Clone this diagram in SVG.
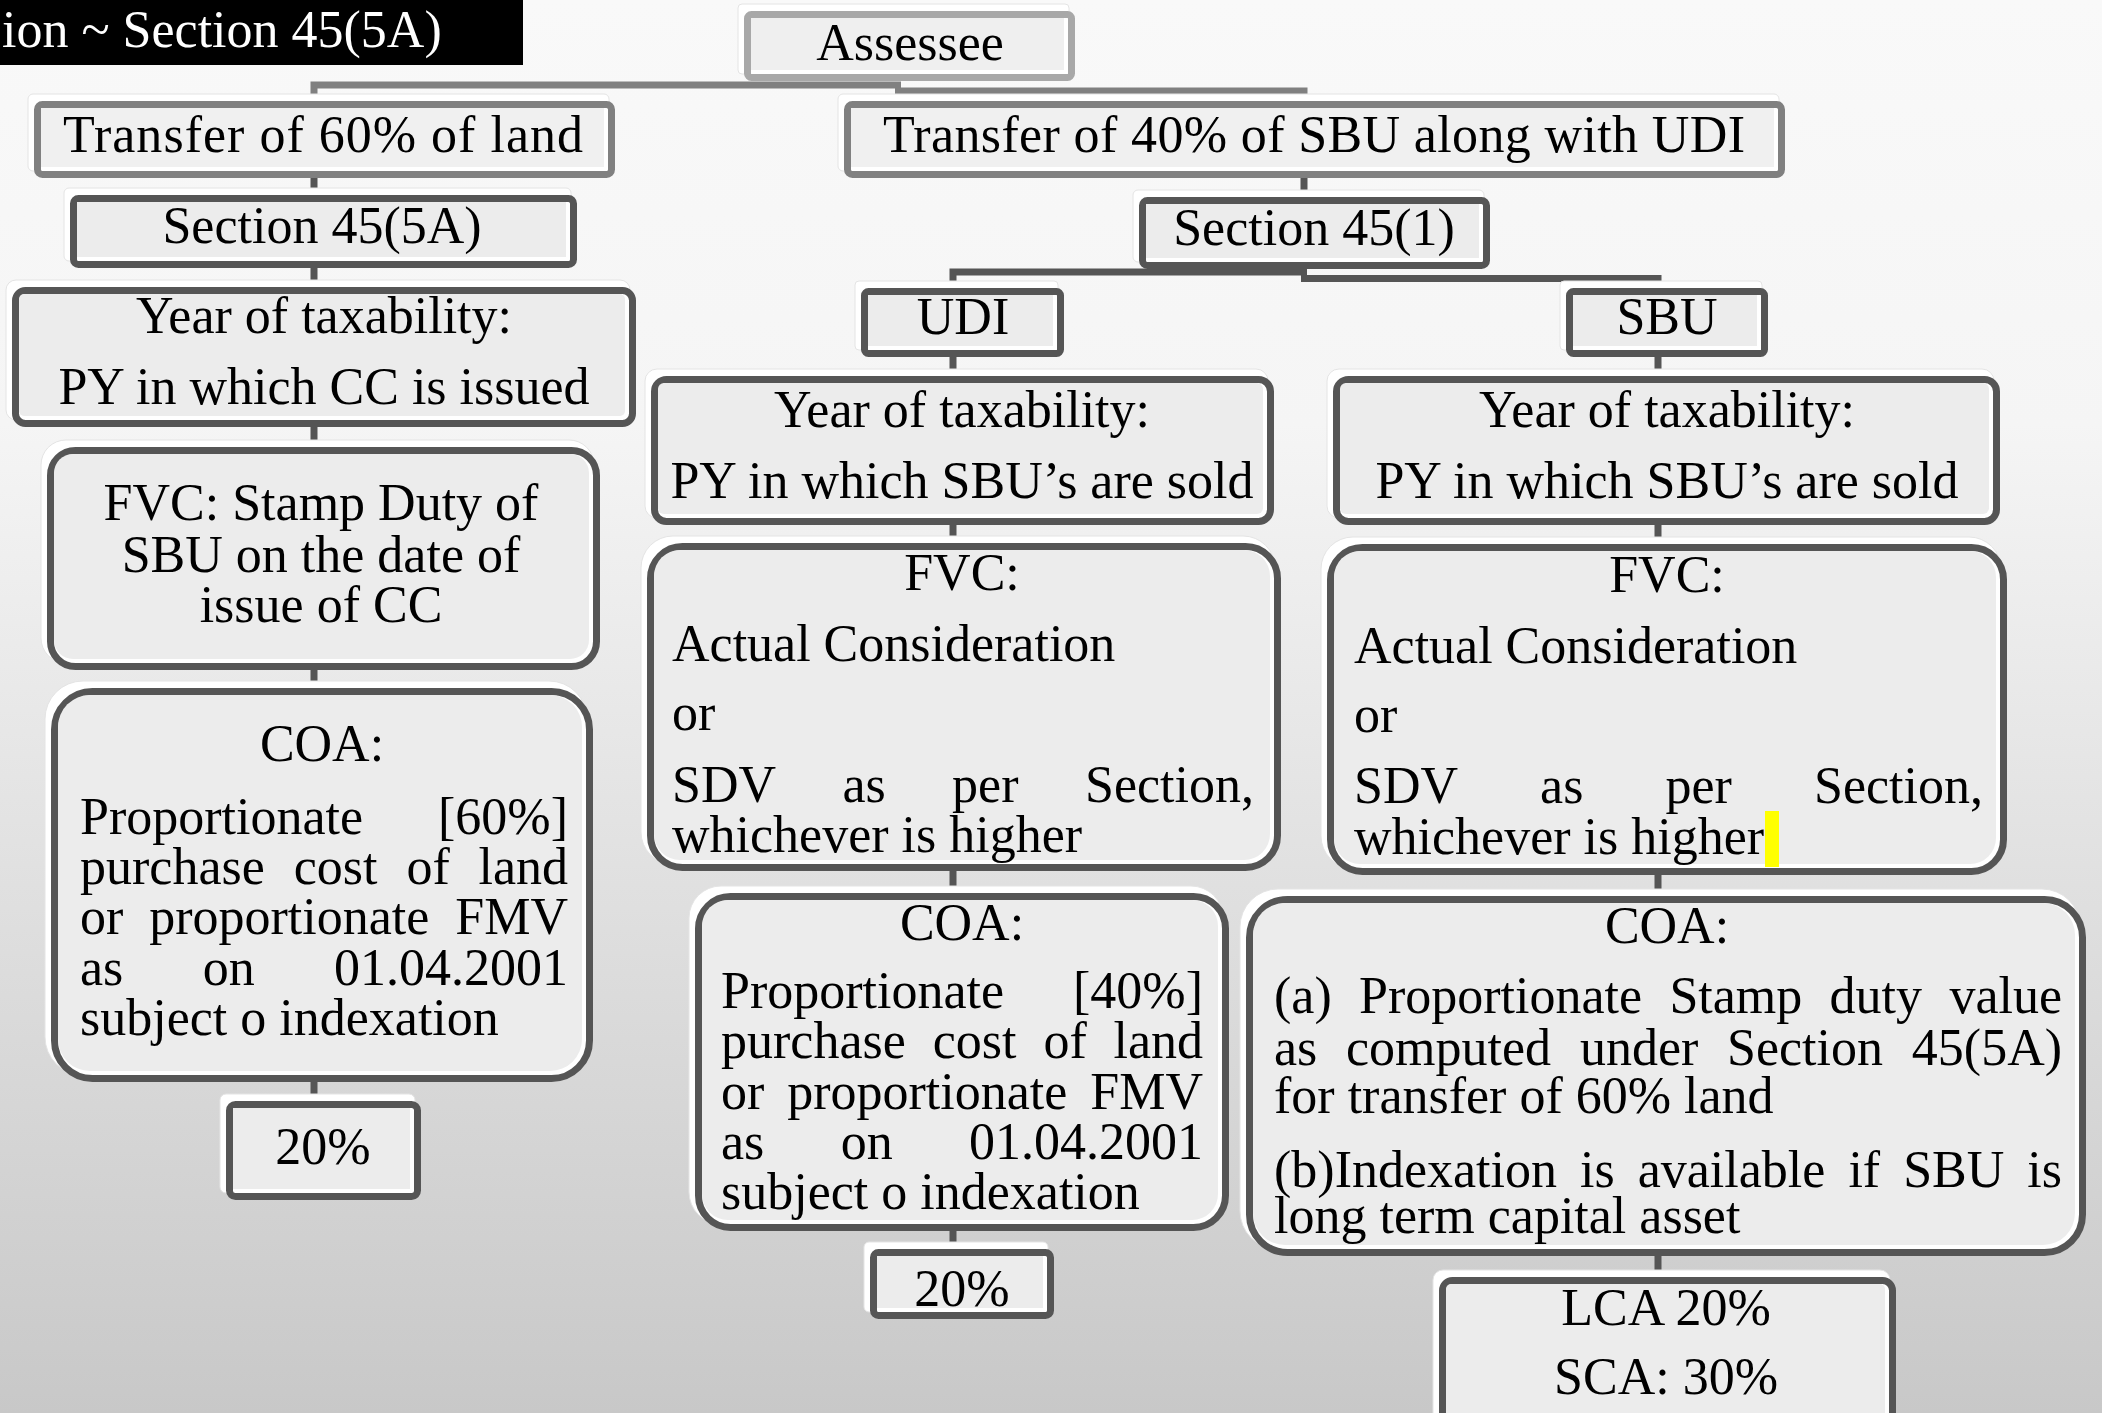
<svg xmlns="http://www.w3.org/2000/svg" width="2102" height="1413" viewBox="0 0 2102 1413">
<defs>
<linearGradient id="bg" x1="0" y1="0" x2="0" y2="1">
<stop offset="0" stop-color="#f9f9f9"/>
<stop offset="0.3" stop-color="#f5f5f5"/>
<stop offset="1" stop-color="#c8c8c8"/>
</linearGradient>
</defs>
<style>
.hl{fill:#ffffff;stroke:#e4e4e4;stroke-width:1}
.frame{fill:#ffffff;stroke:#555555;stroke-width:7}
.f1{stroke:#808080}
.f0{stroke:#a8a8a8}
.fill{fill:#ececec}
.conn{fill:none;stroke:#555555;stroke-width:7}
.c1{stroke:#808080}
text{font-family:"Liberation Serif","Times New Roman",serif;font-size:52px;fill:#000}
.c{text-anchor:middle}
.e{text-anchor:end}
</style>
<rect x="0" y="0" width="2102" height="1413" fill="url(#bg)"/>
<g id="title">
<rect x="0" y="0" width="523" height="65" fill="#000"/>
<text x="2" y="47" style="fill:#fff">ion ~ Section 45(5A)</text>
</g>
<g id="connectors">
<path class="conn c1" d="M314 102 V85 H901"/>
<path class="conn c1" d="M895 91 H1304 V102"/>
<path class="conn" d="M314 178 V196"/>
<path class="conn" d="M1304 178 V198"/>
<path class="conn" d="M314 268 V288"/>
<path class="conn" d="M953 289 V272 H1307"/>
<path class="conn" d="M1301 278.5 H1658 V289"/>
<path class="conn" d="M314 427 V448"/>
<path class="conn" d="M314 670 V689"/>
<path class="conn" d="M314 1082 V1102"/>
<path class="conn" d="M953 357 V377"/>
<path class="conn" d="M953 525 V544"/>
<path class="conn" d="M953 871 V894"/>
<path class="conn" d="M953 1231 V1250"/>
<path class="conn" d="M1658 357 V377"/>
<path class="conn" d="M1658 525 V545"/>
<path class="conn" d="M1658 875 V897"/>
<path class="conn" d="M1658 1256 V1278"/>
</g>
<g id="assessee">
<rect class="hl" x="738" y="4" width="331" height="70" rx="4"/>
<rect class="frame f0" x="747.5" y="14.5" width="324" height="63" rx="4"/>
<rect class="fill" x="751" y="18" width="313" height="52" style="fill:#efefef"/>
<text class="c" x="910" y="60">Assessee</text>
</g>
<g id="transfer60">
<rect class="hl" x="28" y="94" width="581" height="77" rx="5"/>
<rect class="frame f1" x="37.5" y="104.5" width="574" height="70" rx="5"/>
<rect class="fill" x="41" y="108" width="563" height="59" style="fill:#f0f0f0"/>
<text class="c" x="323" y="152" textLength="520" lengthAdjust="spacing">Transfer of 60% of land</text>
</g>
<g id="transfer40">
<rect class="hl" x="838" y="94" width="941" height="77" rx="5"/>
<rect class="frame f1" x="847.5" y="104.5" width="934" height="70" rx="5"/>
<rect class="fill" x="851" y="108" width="923" height="59" style="fill:#f0f0f0"/>
<text class="c" x="1314" y="152" textLength="862" lengthAdjust="spacing">Transfer of 40% of SBU along with UDI</text>
</g>
<g id="sec45-5a">
<rect class="hl" x="64" y="188" width="507" height="73" rx="5"/>
<rect class="frame" x="73.5" y="198.5" width="500" height="66" rx="5"/>
<rect class="fill" x="77" y="202" width="489" height="55"/>
<text class="c" x="322" y="243">Section 45(5A)</text>
</g>
<g id="sec45-1">
<rect class="hl" x="1133" y="190" width="351" height="72" rx="5"/>
<rect class="frame" x="1142.5" y="200.5" width="344" height="65" rx="5"/>
<rect class="fill" x="1146" y="204" width="333" height="54"/>
<text class="c" x="1314" y="245">Section 45(1)</text>
</g>
<g id="year-land">
<rect class="hl" x="6" y="280" width="624" height="140" rx="10"/>
<rect class="frame" x="15.5" y="290.5" width="617" height="133" rx="10"/>
<rect class="fill" x="19" y="294" width="606" height="122" rx="5"/>
<text class="c" x="324" y="333">Year of taxability:</text>
<text class="c" x="324" y="404">PY in which CC is issued</text>
</g>
<g id="fvc-land">
<rect class="hl" x="41" y="440" width="553" height="223" rx="25"/>
<rect class="frame" x="50.5" y="450.5" width="546" height="216" rx="25"/>
<rect class="fill" x="54" y="454" width="535" height="205" rx="19"/>
<text class="c" x="321" y="520">FVC: Stamp Duty of</text>
<text class="c" x="321" y="572">SBU on the date of</text>
<text class="c" x="321" y="622">issue of CC</text>
</g>
<g id="coa-land">
<rect class="hl" x="45" y="681" width="542" height="394" rx="38"/>
<rect class="frame" x="54.5" y="691.5" width="535" height="387" rx="38"/>
<rect class="fill" x="58" y="695" width="524" height="376" rx="32"/>
<text class="c" x="322" y="761">COA:</text>
<text y="834"><tspan x="80">Proportionate</tspan></text>
<text class="e" x="568" y="834">[60%]</text>
<text y="884"><tspan x="80">purchase</tspan><tspan x="293.7">cost</tspan><tspan x="406.4">of</tspan><tspan x="478.6">land</tspan></text>
<text y="934"><tspan x="80">or</tspan><tspan x="149.2">proportionate</tspan><tspan x="455.3">FMV</tspan></text>
<text y="985"><tspan x="80">as</tspan><tspan x="202.7">on</tspan><tspan x="334">01.04.2001</tspan></text>
<text x="80" y="1035">subject o indexation</text>
</g>
<g id="rate-land">
<rect class="hl" x="220" y="1094" width="195" height="99" rx="6"/>
<rect class="frame" x="229.5" y="1104.5" width="188" height="92" rx="6"/>
<rect class="fill" x="233" y="1108" width="177" height="81"/>
<text class="c" x="323" y="1164">20%</text>
</g>
<g id="udi">
<rect class="hl" x="855" y="281" width="203" height="69" rx="4"/>
<rect class="frame" x="864.5" y="291.5" width="196" height="62" rx="4"/>
<rect class="fill" x="868" y="295" width="185" height="51"/>
<text class="c" x="963" y="334">UDI</text>
</g>
<g id="year-udi">
<rect class="hl" x="645" y="369" width="623" height="149" rx="12"/>
<rect class="frame" x="654.5" y="379.5" width="616" height="142" rx="12"/>
<rect class="fill" x="658" y="383" width="605" height="131" rx="6"/>
<text class="c" x="962" y="427">Year of taxability:</text>
<text class="c" x="962" y="498">PY in which SBU’s are sold</text>
</g>
<g id="fvc-udi">
<rect class="hl" x="641" y="536" width="634" height="328" rx="32"/>
<rect class="frame" x="650.5" y="546.5" width="627" height="321" rx="32"/>
<rect class="fill" x="654" y="550" width="616" height="310" rx="26"/>
<text class="c" x="962" y="590">FVC:</text>
<text x="672" y="661">Actual Consideration</text>
<text x="672" y="730">or</text>
<text y="802"><tspan x="672">SDV</tspan><tspan x="842.4">as</tspan><tspan x="952.1">per</tspan></text>
<text class="e" x="1254" y="802">Section,</text>
<text x="672" y="852">whichever is higher</text>
</g>
<g id="coa-udi">
<rect class="hl" x="689" y="886" width="534" height="338" rx="32"/>
<rect class="frame" x="698.5" y="896.5" width="527" height="331" rx="32"/>
<rect class="fill" x="702" y="900" width="516" height="320" rx="26"/>
<text class="c" x="962" y="940">COA:</text>
<text x="721" y="1008">Proportionate</text>
<text class="e" x="1203" y="1008">[40%]</text>
<text y="1058"><tspan x="721">purchase</tspan><tspan x="932.7">cost</tspan><tspan x="1043.4">of</tspan><tspan x="1113.6">land</tspan></text>
<text y="1109"><tspan x="721">or</tspan><tspan x="787.2">proportionate</tspan><tspan x="1090.3">FMV</tspan></text>
<text y="1159"><tspan x="721">as</tspan><tspan x="840.7">on</tspan><tspan x="969">01.04.2001</tspan></text>
<text x="721" y="1209">subject o indexation</text>
</g>
<g id="rate-udi">
<rect class="hl" x="864" y="1242" width="184" height="70" rx="5"/>
<rect class="frame" x="873.5" y="1252.5" width="177" height="63" rx="5"/>
<rect class="fill" x="877" y="1256" width="166" height="52"/>
<text class="c" x="962" y="1306">20%</text>
</g>
<g id="sbu">
<rect class="hl" x="1560" y="281" width="202" height="69" rx="4"/>
<rect class="frame" x="1569.5" y="291.5" width="195" height="62" rx="4"/>
<rect class="fill" x="1573" y="295" width="184" height="51"/>
<text class="c" x="1667" y="334">SBU</text>
</g>
<g id="year-sbu">
<rect class="hl" x="1327" y="369" width="667" height="149" rx="12"/>
<rect class="frame" x="1336.5" y="379.5" width="660" height="142" rx="12"/>
<rect class="fill" x="1340" y="383" width="649" height="131" rx="6"/>
<text class="c" x="1667" y="427">Year of taxability:</text>
<text class="c" x="1667" y="498">PY in which SBU’s are sold</text>
</g>
<g id="fvc-sbu">
<rect class="hl" x="1321" y="537" width="680" height="331" rx="32"/>
<rect class="frame" x="1330.5" y="547.5" width="673" height="324" rx="32"/>
<rect class="fill" x="1334" y="551" width="662" height="313" rx="26"/>
<text class="c" x="1667" y="592">FVC:</text>
<text x="1354" y="663">Actual Consideration</text>
<text x="1354" y="732">or</text>
<text y="803"><tspan x="1354">SDV</tspan><tspan x="1540.1">as</tspan><tspan x="1665.5">per</tspan></text>
<text class="e" x="1983" y="803">Section,</text>
<text x="1354" y="854">whichever is higher</text>
<rect x="1765" y="811" width="14" height="56" fill="#ffff00"/>
</g>
<g id="coa-sbu">
<rect class="hl" x="1240" y="889" width="840" height="360" rx="38"/>
<rect class="frame" x="1249.5" y="899.5" width="833" height="353" rx="38"/>
<rect class="fill" x="1253" y="903" width="822" height="342" rx="32"/>
<text class="c" x="1667" y="943">COA:</text>
<text y="1013"><tspan x="1274">(a)</tspan><tspan x="1359">Proportionate</tspan><tspan x="1669.4">Stamp</tspan><tspan x="1829.6">duty</tspan></text>
<text class="e" x="2062" y="1013">value</text>
<text y="1065"><tspan x="1274">as</tspan><tspan x="1346">computed</tspan><tspan x="1579.9">under</tspan><tspan x="1727">Section</tspan></text>
<text class="e" x="2062" y="1065">45(5A)</text>
<text x="1274" y="1113">for transfer of 60% land</text>
<text y="1187"><tspan x="1274">(b)Indexation</tspan><tspan x="1580">is</tspan><tspan x="1637.7">available</tspan><tspan x="1848.4">if</tspan><tspan x="1903.2">SBU</tspan></text>
<text class="e" x="2062" y="1187">is</text>
<text x="1274" y="1233">long term capital asset</text>
</g>
<g id="rate-sbu">
<rect class="hl" x="1433" y="1270" width="457" height="163" rx="10"/>
<rect class="frame" x="1442.5" y="1280.5" width="450" height="156" rx="10"/>
<rect class="fill" x="1446" y="1284" width="439" height="145" rx="5"/>
<text class="c" x="1666" y="1325">LCA 20%</text>
<text class="c" x="1666" y="1394">SCA: 30%</text>
</g>
</svg>
